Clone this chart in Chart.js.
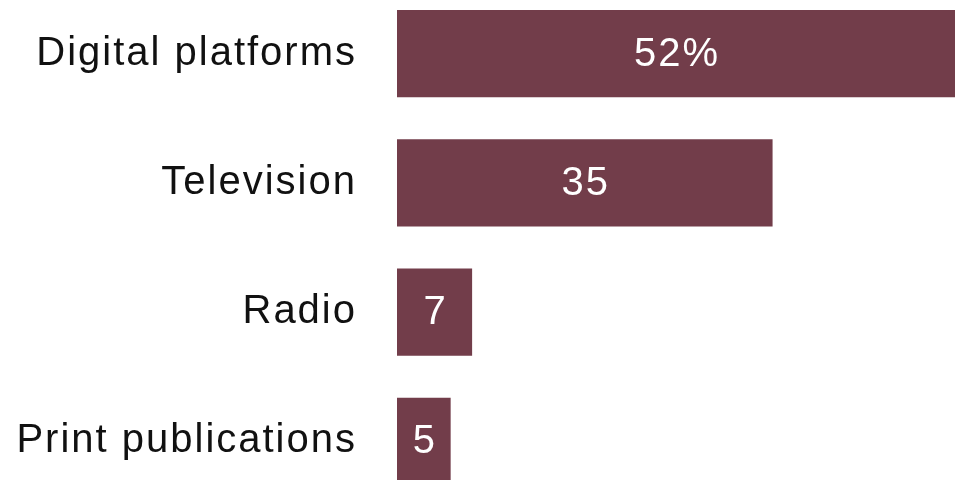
<!DOCTYPE html>
<html>
<head>
<meta charset="utf-8">
<script src="https://cdn.jsdelivr.net/npm/chart.js@4"></script>
<style>
  html, body { margin: 0; padding: 0; background: #fff; overflow: hidden; }
  #myChart { position: absolute; left: 0; top: -11px; }
</style>
</head>
<body>
<canvas id="myChart" width="957" height="517"></canvas>
<script>
var categories = ['Digital platforms', 'Television', 'Radio', 'Print publications'];
var shares = [52, 35, 7, 5];
var valueLabels = ['52%', '35', '7', '5'];

// slightly wider text spacing like the original typeface
var spacing = {
    id: 'spacing',
    beforeDraw: function(chart) {
        chart.ctx.letterSpacing = '2px';
    }
};

// white value text in the middle of each bar
var barText = {
    id: 'barText',
    afterDatasetsDraw: function(chart) {
        var ctx = chart.ctx;
        var meta = chart.getDatasetMeta(0);
        ctx.save();
        ctx.fillStyle = '#ffffff';
        ctx.font = '40px "Liberation Sans", Arial, sans-serif';
        ctx.textAlign = 'center';
        ctx.textBaseline = 'middle';
        meta.data.forEach(function(bar, i) {
            var cx = (bar.base + bar.x) / 2;
            ctx.fillText(valueLabels[i], cx + 1, bar.y + 1);
        });
        ctx.restore();
    }
};

var ctx = document.getElementById('myChart');
var myChart = new Chart(ctx, {
    type: 'bar',
    data: {
        labels: categories,
        datasets: [{
            data: shares,
            backgroundColor: '#723d4a',
            barPercentage: 0.674,
            categoryPercentage: 1.0
        }]
    },
    options: {
        indexAxis: 'y',
        responsive: false,
        animation: false,
        layout: { padding: { left: 0, right: 2, top: 0, bottom: 0 } },
        plugins: {
            legend: { display: false },
            tooltip: { enabled: false }
        },
        scales: {
            x: {
                display: false,
                min: 0,
                max: 52
            },
            y: {
                grid: { display: false, drawTicks: false },
                border: { display: false },
                ticks: {
                    color: '#111111',
                    padding: 40,
                    font: { size: 40, family: '"Liberation Sans", Arial, sans-serif' }
                },
                afterFit: function(scale) {
                    scale.width = 397;
                    scale.paddingTop = 0;
                    scale.paddingBottom = 0;
                }
            }
        }
    },
    plugins: [spacing, barText]
});
</script>
</body>
</html>
